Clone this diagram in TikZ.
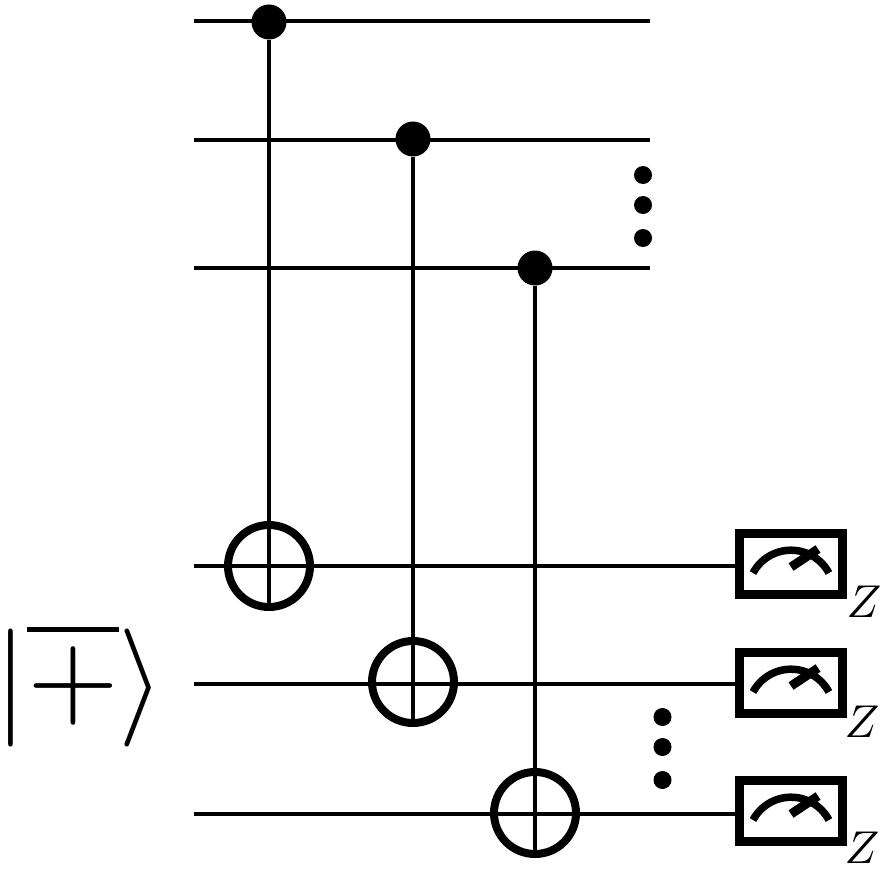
\documentclass[tikz,border=0pt]{standalone}
\usepackage{graphicx}
\usetikzlibrary{calc}
\tikzset{
  wire/.style={line width=4.2pt},
  ctrl/.style={circle,fill=black,inner sep=0pt,minimum size=35pt},
  dotn/.style={circle,fill=black,inner sep=0pt,minimum size=18pt},
  targ/.style={circle,draw,line width=8pt,inner sep=0pt,minimum size=82pt},
  meter/.style={draw,line width=9.5pt,fill=white,inner sep=0pt,minimum width=103pt,minimum height=61pt},
  zlab/.style={inner sep=0pt}
}
\newcommand{\metersym}[1]{%
  \draw[line width=7.5pt] ($(#1)+(-38,9)$) arc[start angle=152,end angle=28,radius=43pt];
  \draw[line width=9pt] ($(#1)+(0,3)$) -- ($(#1)+(27,-15)$);
}
\begin{document}
\begin{tikzpicture}[x=1pt,y=-1pt]
\useasboundingbox (0,0) rectangle (888,872);
\coordinate (a0) at (194,21);  \coordinate (a1) at (650,21);
\coordinate (b0) at (194,140); \coordinate (b1) at (650,140);
\coordinate (c0) at (194,268); \coordinate (c1) at (650,268);
\coordinate (d0) at (194,566);
\coordinate (e0) at (194,684);
\coordinate (f0) at (194,814);
\node[meter] (m1) at (791,564) {};
\node[meter] (m2) at (791,683) {};
\node[meter] (m3) at (791,811) {};
\draw[wire] (a0) -- (a1);
\draw[wire] (b0) -- (b1);
\draw[wire] (c0) -- (c1);
\draw[wire] (d0) -- (d0 -| m1.west);
\draw[wire] (e0) -- (e0 -| m2.west);
\draw[wire] (f0) -- (f0 -| m3.west);
\node[ctrl] (k1) at (269,22) {};
\node[ctrl] (k2) at (413,139) {};
\node[ctrl] (k3) at (535,268) {};
\node[targ] (t1) at (269,566) {};
\node[targ] (t2) at (413,682) {};
\node[targ] (t3) at (535,813) {};
\draw[wire] (k1) -- (t1.south);
\draw[wire] (k2) -- (t2.south);
\draw[wire] (k3) -- (t3.south);
\metersym{m1}
\metersym{m2}
\metersym{m3}
\node[zlab] (z1) at (864,602) {\scalebox{4.6}{$Z$}};
\node[zlab] (z2) at (862,722) {\scalebox{4.6}{$Z$}};
\node[zlab] (z3) at (862,848) {\scalebox{4.6}{$Z$}};
\node[dotn] (u1) at (643,175) {};
\node[dotn] (u2) at (643,205) {};
\node[dotn] (u3) at (643,238) {};
\node[dotn] (v1) at (662.5,717) {};
\node[dotn] (v2) at (662.5,747) {};
\node[dotn] (v3) at (662.5,780) {};
\node[inner sep=0pt] (ket) at (85.5,685) {\scalebox{11.8}{$\kern-1pt|\overline{\raisebox{.25pt}{$+$}}\rangle$}};
\end{tikzpicture}
\end{document}
